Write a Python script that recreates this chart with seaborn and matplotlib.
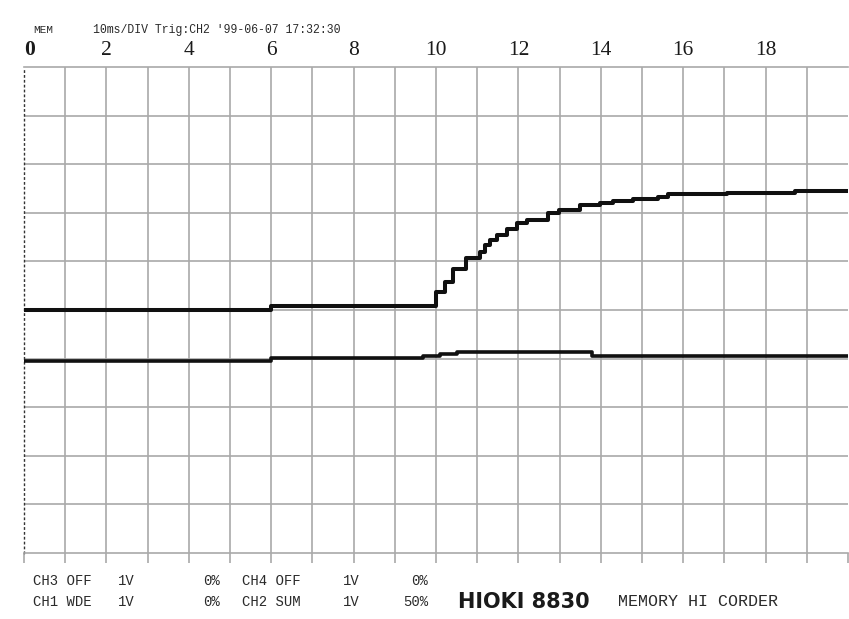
import matplotlib
matplotlib.use("Agg")
import matplotlib.pyplot as plt
import numpy as np
import pandas as pd
import seaborn as sns

# Recorded waveforms (time in ms, level in grid divisions from the bottom)
ch2_time = [0.0, 6.0, 10.0, 10.22, 10.42, 10.74, 11.07, 11.19, 11.31, 11.47,
            11.72, 11.96, 12.20, 12.73, 12.99, 13.50, 13.98, 14.30, 14.78,
            15.39, 15.63, 17.06, 18.71, 20.0]
ch2_level = [5.00, 5.09, 5.38, 5.58, 5.84, 6.06, 6.20, 6.34, 6.44, 6.54,
             6.66, 6.78, 6.86, 6.99, 7.06, 7.16, 7.20, 7.24, 7.28,
             7.33, 7.39, 7.41, 7.45, 7.45]

ch1_time = [0.0, 6.0, 9.68, 10.1, 10.5, 13.79, 20.0]
ch1_level = [3.96, 4.01, 4.05, 4.09, 4.14, 4.05, 4.05]

time_ticks = list(range(0, 21))
time_labels = ["0", "", "2", "", "4", "", "6", "", "8", "", "10", "",
               "12", "", "14", "", "16", "", "18", "", ""]

header = "10ms/DIV Trig:CH2 '99-06-07 17:32:30"
status_row1 = ["CH3 OFF", "1V", "0%", "CH4 OFF", "1V", "0%"]
status_row2 = ["CH1 WDE", "1V", "0%", "CH2 SUM", "1V", "50%"]

sns.set_style("white")
plt.rcParams["font.family"] = ["DejaVu Sans"]

W, H = 849, 619
fig = plt.figure(figsize=(W / 100, H / 100), dpi=100)
fig.patch.set_facecolor("white")
ax = fig.add_axes([24 / W, 1 - 553 / H, 824 / W, 486 / H])
ax.set_facecolor("white")

grid_c = "#a9a9a9"
ink = "#101010"

df2 = pd.DataFrame({"t": ch2_time, "v": ch2_level})
df1 = pd.DataFrame({"t": ch1_time, "v": ch1_level})
sns.lineplot(data=df2, x="t", y="v", ax=ax, color=ink, linewidth=2.9,
             drawstyle="steps-post", estimator=None, sort=False, zorder=5)
sns.lineplot(data=df1, x="t", y="v", ax=ax, color=ink, linewidth=2.6,
             drawstyle="steps-post", estimator=None, sort=False, zorder=5)

ax.set_xlim(0, 20)
ax.set_ylim(0, 10)
ax.set_xlabel("")
ax.set_ylabel("")

# grid: 20 x 10 divisions
for t in range(1, 20):
    ax.axvline(t, color=grid_c, lw=1.2, zorder=1)
for v in range(1, 10):
    ax.axhline(v, color=grid_c, lw=1.2, zorder=1)

for side in ["top", "bottom"]:
    ax.spines[side].set_color(grid_c)
    ax.spines[side].set_linewidth(1.2)
ax.spines["right"].set_visible(False)
ax.spines["left"].set_color("#333333")
ax.spines["left"].set_linewidth(1.0)
ax.spines["left"].set_linestyle((0, (1, 2.5)))

ax.set_xticks(time_ticks)
ax.set_xticklabels(time_labels)
ax.set_yticks([])
ax.tick_params(axis="x", top=False, labeltop=True, bottom=True,
               labelbottom=False, direction="out", length=7, width=1.2,
               color=grid_c, pad=-2)
for lbl in ax.get_xticklabels(which="major"):
    lbl.set_fontfamily("Liberation Serif")
    lbl.set_fontsize(15.5)
    lbl.set_color("#1a1a1a")
first = ax.get_xticklabels()[0]
first.set_fontweight("bold")
first.set_horizontalalignment("left")

def px(x, y, s, **kw):
    fig.text(x / W, 1 - y / H, s, **kw)

mono = dict(fontfamily="Liberation Mono", color="#2a2a2a", va="center")
px(33, 30, "MEM", fontsize=8, **mono)
px(93, 30, header, fontsize=8.3, **mono)

cols = [33, 118, 203, 242, 343, 428]
for row_y, row in [(581, status_row1), (602, status_row2)]:
    for i, (cx, s) in enumerate(zip(cols, row)):
        ha = "right" if i == 5 else "left"
        px(cx, row_y, s, fontsize=10, ha=ha, **mono)

px(458, 602, "HIOKI 8830", fontsize=15, fontweight="bold",
   fontfamily="DejaVu Sans", color="#1a1a1a", va="center", ha="left")
px(618, 602, "MEMORY HI CORDER", fontsize=12, **mono)

fig.savefig("out.png", dpi=100, facecolor="white")
